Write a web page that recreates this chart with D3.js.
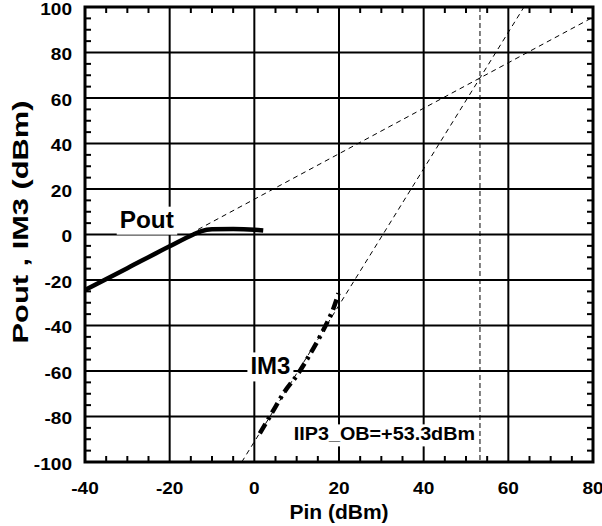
<!DOCTYPE html>
<html>
<head>
<meta charset="utf-8">
<script src="https://cdn.jsdelivr.net/npm/d3@7"></script>
<style>
  body { margin: 0; background: #fff; }
  svg text { font-family: "Liberation Sans", Arial, sans-serif; font-weight: bold; fill: #000; }
</style>
</head>
<body>
<svg id="chart" width="602" height="526"></svg>
<script>
// measured curves
const poutPin = [-40, -30, -20, -14.4, -12.5, -10, -5, 0, 2.1];
const poutVal = [-24.4, -14.8, -5.2, 0.0, 1.5, 2.3, 2.4, 2.1, 1.8];

const im3Pin = [1.3, 4.1, 7.0, 10.4, 13.5, 16.3, 18.7, 19.9];
const im3Val = [-87.4, -78.6, -69.5, -61.0, -51.5, -42.0, -32.4, -25.8];

// extrapolated lines (end points)
const poutExtPin = [-13.3, 80];
const poutExtVal = [2.2, 95.5];
const im3ExtPin = [-2.97, 63.7];
const im3ExtVal = [-100, 100];
const iip3 = 53.3;

const xTicks = [-40, -20, 0, 20, 40, 60, 80];
const yTicks = [-100, -80, -60, -40, -20, 0, 20, 40, 60, 80, 100];

let svg = d3.select("#chart");
let pLeft = 85, pRight = 593, pTop = 7, pBottom = 462;

let x = d3.scaleLinear().domain([-40, 80]).range([pLeft, pRight]);
let y = d3.scaleLinear().domain([-100, 100]).range([pBottom, pTop]);

// the original glyphs are a bit wider than Liberation Sans
let widen = (sel, k) => {
  sel.each(function () {
    let w = this.getComputedTextLength();
    d3.select(this).attr("textLength", w * k).attr("lengthAdjust", "spacingAndGlyphs");
  });
};

// grid
let grid = svg.append("g").attr("stroke", "#000").attr("stroke-width", 2);
grid.selectAll(".gx").data(xTicks).enter().append("line")
    .attr("x1", d => x(d)).attr("x2", d => x(d))
    .attr("y1", pTop).attr("y2", pBottom);
grid.selectAll(".gy").data(yTicks).enter().append("line")
    .attr("y1", d => y(d)).attr("y2", d => y(d))
    .attr("x1", pLeft).attr("x2", pRight);

// minor ticks, inward on all sides
let xMinor = d3.range(-40, 81, 5).filter(d => d % 20 != 0);
let yMinor = d3.range(-100, 101, 5).filter(d => d % 20 != 0);
let ticks = svg.append("g").attr("stroke", "#000").attr("stroke-width", 2);
xMinor.forEach(d => {
  ticks.append("line").attr("x1", x(d)).attr("x2", x(d)).attr("y1", pBottom).attr("y2", pBottom - 6);
  ticks.append("line").attr("x1", x(d)).attr("x2", x(d)).attr("y1", pTop).attr("y2", pTop + 6);
});
yMinor.forEach(d => {
  ticks.append("line").attr("y1", y(d)).attr("y2", y(d)).attr("x1", pLeft).attr("x2", pLeft + 6);
  ticks.append("line").attr("y1", y(d)).attr("y2", y(d)).attr("x1", pRight).attr("x2", pRight - 6);
});

// label boxes (white, hide the grid behind the text)
let labels = svg.append("g");
let addLabel = (txt, px, py, size, anchor, k) => {
  let t = labels.append("text")
    .attr("x", x(px)).attr("y", y(py))
    .attr("text-anchor", anchor)
    .attr("font-size", size)
    .text(txt);
  widen(t, k);
  let b = t.node().getBBox();
  labels.insert("rect", "text")
    .attr("x", b.x - 3).attr("y", b.y)
    .attr("width", b.width + 6).attr("height", b.height + 2)
    .attr("fill", "#fff");
};
addLabel("Pout", -25.4, 3, 23, "middle", 1.06);
addLabel("IM3", 3.8, -61.5, 24, "middle", 1.0);
addLabel("IIP3_OB=+53.3dBm", 9.3, -90.5, 17.5, "start", 1.13);

// dashed extrapolation lines
let line = d3.line().x(d => x(d[0])).y(d => y(d[1]));
let plot = svg.append("g");

plot.append("line")
    .attr("x1", x(iip3)).attr("x2", x(iip3))
    .attr("y1", pTop).attr("y2", pBottom)
    .attr("stroke", "#000").attr("stroke-width", 1)
    .attr("stroke-dasharray", "5,3");

plot.append("path")
    .attr("d", line(d3.zip(poutExtPin, poutExtVal)))
    .attr("fill", "none").attr("stroke", "#000").attr("stroke-width", 1)
    .attr("stroke-dasharray", "5,4");

plot.append("path")
    .attr("d", line(d3.zip(im3ExtPin, im3ExtVal)))
    .attr("fill", "none").attr("stroke", "#000").attr("stroke-width", 1)
    .attr("stroke-dasharray", "5,4");

// measured curves
let smooth = d3.line().x(d => x(d[0])).y(d => y(d[1])).curve(d3.curveMonotoneX);
plot.append("path")
    .attr("d", smooth(d3.zip(poutPin, poutVal)))
    .attr("fill", "none").attr("stroke", "#000").attr("stroke-width", 4.5);

plot.append("path")
    .attr("d", smooth(d3.zip(im3Pin, im3Val)))
    .attr("fill", "none").attr("stroke", "#000").attr("stroke-width", 4.5)
    .attr("stroke-dasharray", "11,5,3,5");

// frame
svg.append("rect")
    .attr("x", pLeft).attr("y", pTop)
    .attr("width", pRight - pLeft).attr("height", pBottom - pTop)
    .attr("fill", "none").attr("stroke", "#000").attr("stroke-width", 3);

// tick labels
svg.selectAll(".xl").data(xTicks).enter().append("text")
    .attr("x", d => x(d)).attr("y", 494)
    .attr("text-anchor", "middle").attr("font-size", 17)
    .text(d => d)
    .call(widen, 1.12);
svg.selectAll(".yl").data(yTicks).enter().append("text")
    .attr("x", 72).attr("y", d => y(d)).attr("dy", "0.45em")
    .attr("text-anchor", "end").attr("font-size", 17)
    .text(d => d)
    .call(widen, 1.12);

// axis titles
svg.append("text")
    .attr("x", (pLeft + pRight) / 2).attr("y", 519)
    .attr("text-anchor", "middle").attr("font-size", 21)
    .text("Pin (dBm)");
svg.append("text")
    .attr("transform", "translate(28,222) rotate(-90)")
    .attr("text-anchor", "middle").attr("font-size", 22)
    .text("Pout , IM3 (dBm)")
    .call(widen, 1.4);
</script>
</body>
</html>
